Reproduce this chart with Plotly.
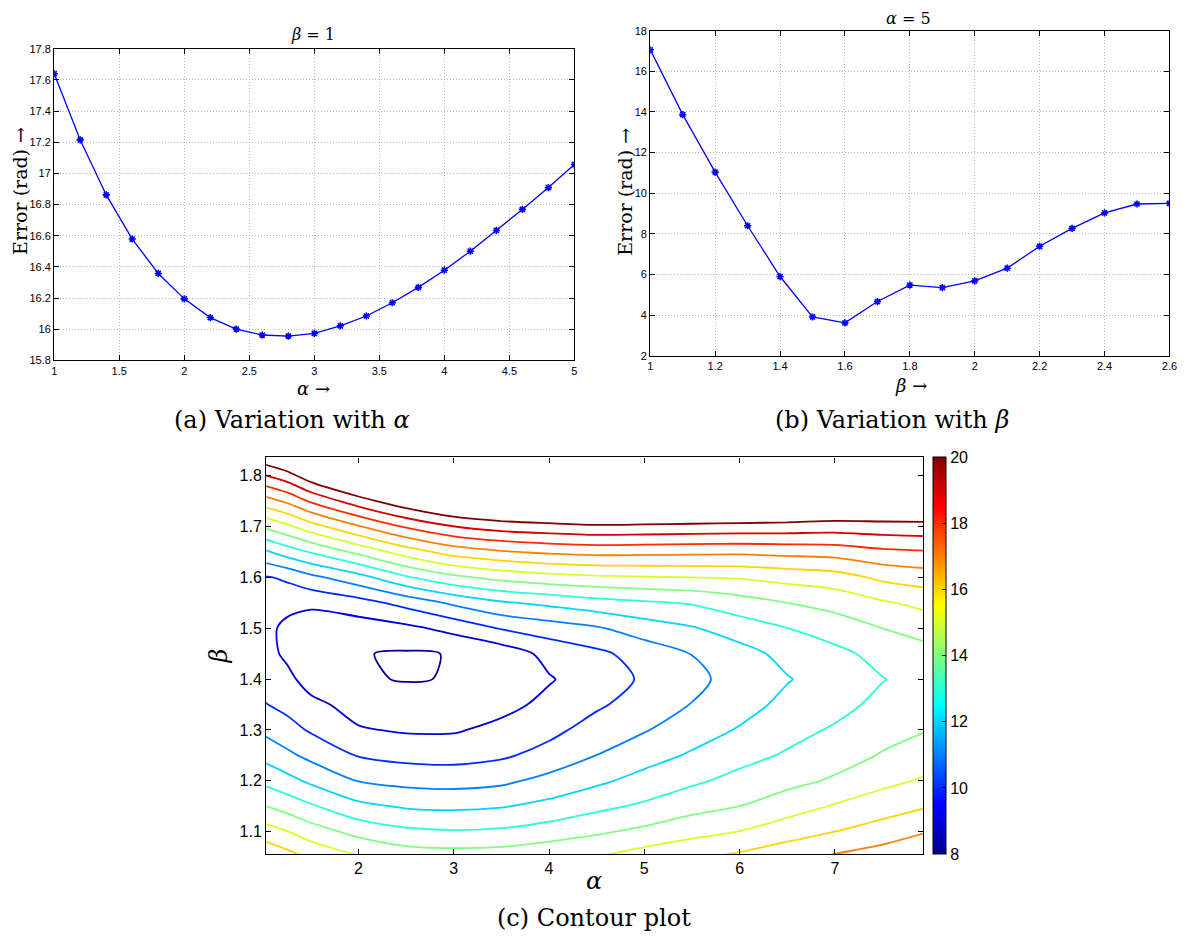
import plotly.graph_objects as go

# ---------------- data: (a) variation with alpha (beta = 1) ----------------
alpha_a = [1.0, 1.2, 1.4, 1.6, 1.8, 2.0, 2.2, 2.4, 2.6, 2.8, 3.0,
           3.2, 3.4, 3.6, 3.8, 4.0, 4.2, 4.4, 4.6, 4.8, 5.0]
error_a = [17.64, 17.215, 16.862, 16.579, 16.358, 16.195, 16.075, 16.001, 15.963, 15.956, 15.973,
           16.022, 16.085, 16.170, 16.269, 16.379, 16.501, 16.634, 16.769, 16.909, 17.057]

# ---------------- data: (b) variation with beta (alpha = 5) ----------------
beta_b = [1.0, 1.1, 1.2, 1.3, 1.4, 1.5, 1.6, 1.7, 1.8, 1.9, 2.0, 2.1, 2.2, 2.3, 2.4, 2.5, 2.6]
error_b = [17.06, 13.87, 11.04, 8.40, 5.90, 3.91, 3.62, 4.67, 5.48, 5.35, 5.69,
           6.31, 7.39, 8.27, 9.03, 9.47, 9.50]

# ---------------- data: (c) error surface over (alpha, beta) ----------------
alpha_grid = [1.0, 1.25, 1.5, 2.0, 2.5, 3.0, 3.5, 4.0, 4.5, 5.0, 5.5, 6.0, 6.5, 7.0, 7.5, 8.0]
beta_grid = [1.05, 1.10, 1.15, 1.20, 1.25, 1.30, 1.35, 1.40, 1.45,
             1.50, 1.55, 1.60, 1.65, 1.70, 1.75, 1.80, 1.85]
# one list per alpha column, values for beta_grid from 1.05 to 1.85
err_a100 = [17.0, 15.47, 14.06, 12.78, 11.73, 10.81, 10.07, 9.6, 9.4, 9.4, 9.5, 9.9, 11.77, 14.1, 16.52, 18.9, 21.3]
err_a125 = [16.4, 15.03, 13.6, 12.32, 11.22, 10.35, 9.73, 9.27, 8.80, 8.71, 9.37, 10.15, 12.47, 14.78, 17.17, 19.57, 22.0]
err_a150 = [15.86, 14.47, 13.13, 11.81, 10.74, 9.89, 9.27, 8.55, 8.3, 8.45, 9.2, 10.74, 13.07, 15.57, 18.12, 20.63, 23.2]
err_a200 = [15.1, 13.68, 12.24, 10.96, 9.94, 9.09, 8.6, 8.1, 8.05, 8.5, 9.6, 11.63, 14.24, 16.91, 19.57, 21.9, 24.2]
err_a250 = [14.6, 13.22, 11.88, 10.70, 9.69, 8.89, 8.42, 7.95, 7.9, 8.76, 10.33, 12.87, 15.47, 18.13, 20.7, 23.2, 25.7]
err_a300 = [14.5, 13.08, 11.8, 10.62, 9.64, 8.9, 8.45, 8.04, 8.04, 9.3, 11.19, 13.77, 16.41, 18.98, 21.6, 24.2, 26.8]
err_a350 = [14.56, 13.17, 11.93, 10.79, 9.85, 9.27, 8.7, 8.45, 8.4, 10.07, 11.87, 14.29, 16.88, 19.45, 22.0, 24.6, 27.2]
err_a400 = [14.85, 13.46, 12.28, 11.3, 10.35, 9.73, 9.25, 8.92, 9.3, 10.5, 12.23, 14.62, 17.17, 19.66, 22.2, 24.7, 27.2]
err_a450 = [15.02, 13.85, 12.75, 11.81, 11.01, 10.41, 9.85, 9.52, 9.78, 10.88, 12.61, 14.82, 17.31, 19.82, 22.4, 25.0, 27.5]
err_a500 = [15.5, 14.23, 13.16, 12.34, 11.6, 10.93, 10.44, 10.13, 10.41, 11.5, 12.86, 14.92, 17.27, 19.78, 22.3, 24.8, 27.3]
err_a550 = [15.88, 14.67, 13.65, 12.83, 12.12, 11.55, 11.03, 10.76, 11.02, 11.91, 13.08, 15.0, 17.23, 19.72, 22.2, 24.7, 27.2]
err_a600 = [16.24, 15.02, 14.0, 13.3, 12.67, 12.08, 11.63, 11.36, 11.62, 12.49, 13.56, 15.08, 17.2, 19.66, 22.1, 24.6, 27.1]
err_a650 = [16.66, 15.57, 14.53, 13.71, 13.11, 12.68, 12.25, 11.94, 12.3, 12.99, 14.0, 15.34, 17.3, 19.6, 22.0, 24.4, 26.8]
err_a700 = [17.14, 16.0, 15.09, 14.13, 13.59, 13.11, 12.69, 12.46, 12.72, 13.5, 14.32, 15.57, 17.41, 19.5, 21.7, 23.9, 26.1]
err_a750 = [17.52, 16.46, 15.52, 14.75, 14.07, 13.67, 13.25, 12.96, 13.35, 14.0, 14.87, 16.21, 17.77, 19.6, 21.6, 23.6, 25.6]
err_a800 = [18.0, 17.0, 15.97, 15.16, 14.56, 14.0, 13.7, 13.45, 13.72, 14.4, 15.33, 16.51, 17.91, 19.67, 21.5, 23.3, 25.2]

columns = [err_a100, err_a125, err_a150, err_a200, err_a250, err_a300, err_a350, err_a400,
           err_a450, err_a500, err_a550, err_a600, err_a650, err_a700, err_a750, err_a800]
z_rows = [list(r) for r in zip(*columns)]

ticks_a_x = [1, 1.5, 2, 2.5, 3, 3.5, 4, 4.5, 5]
ticks_a_y = [15.8, 16.0, 16.2, 16.4, 16.6, 16.8, 17.0, 17.2, 17.4, 17.6, 17.8]
ticks_b_x = [1, 1.2, 1.4, 1.6, 1.8, 2.0, 2.2, 2.4, 2.6]
ticks_b_y = [2, 4, 6, 8, 10, 12, 14, 16, 18]
ticks_c_x = [2, 3, 4, 5, 6, 7]
ticks_c_y = [1.1, 1.2, 1.3, 1.4, 1.5, 1.6, 1.7, 1.8]
ticks_cb = [8, 10, 12, 14, 16, 18, 20]

W, H = 1192, 940
def px(x): return x / W
def py(y): return 1 - y / H

jet = [[0.0, 'rgb(0,0,143)'], [0.125, 'rgb(0,0,255)'], [0.375, 'rgb(0,255,255)'],
       [0.625, 'rgb(255,255,0)'], [0.875, 'rgb(255,0,0)'], [1.0, 'rgb(128,0,0)']]

def lbl(v):
    return f"{v:g}"

SANS = "Liberation Sans, Arial, sans-serif"
SERIF = "DejaVu Serif, serif"

fig = go.Figure()

marker_style = dict(symbol='asterisk', size=6, color='#0000ff', line=dict(color='#0000ff', width=1.6))

fig.add_trace(go.Scatter(
    x=alpha_a, y=error_a, mode='lines+markers', xaxis='x', yaxis='y',
    line=dict(color='#0000ff', width=1.3), marker=marker_style,
    showlegend=False, hoverinfo='skip'))

fig.add_trace(go.Scatter(
    x=beta_b, y=error_b, mode='lines+markers', xaxis='x2', yaxis='y2',
    line=dict(color='#0000ff', width=1.3), marker=marker_style,
    showlegend=False, hoverinfo='skip'))

fig.add_trace(go.Contour(
    x=alpha_grid, y=beta_grid, z=z_rows, xaxis='x3', yaxis='y3',
    contours=dict(start=8, end=20, size=1, coloring='lines'),
    colorscale=jet, zmin=8, zmax=20, showscale=False,
    line=dict(width=1.8, smoothing=0.8), hoverinfo='skip'))

# colour bar (continuous jet) through an off-range marker
fig.add_trace(go.Scatter(
    x=[0], y=[0], xaxis='x3', yaxis='y3', mode='markers',
    marker=dict(color=[8], colorscale=jet, cmin=8, cmax=20, showscale=True, size=1,
                colorbar=dict(x=px(938.3), xanchor='left', y=py(658), yanchor='middle',
                              len=402.6 / H, lenmode='fraction', thickness=13, thicknessmode='pixels',
                              xpad=0, ypad=0, outlinewidth=1, outlinecolor='black',
                              tickmode='array', tickvals=ticks_cb, ticktext=[lbl(v) for v in ticks_cb],
                              ticks='inside', ticklen=4, tickcolor='black',
                              tickfont=dict(family=SANS, size=16, color='black'))),
    showlegend=False, hoverinfo='skip'))

def axis(domain, rng, tickvals, anchor, size, grid):
    return dict(domain=domain, range=rng, anchor=anchor, tickmode='array', tickvals=tickvals,
                ticktext=[lbl(v) for v in tickvals], ticks='inside', ticklen=5, tickcolor='black',
                mirror='ticks', showline=True, linecolor='black', linewidth=1.3,
                showgrid=grid, gridcolor='#b8b8b8', griddash='1px,2px', gridwidth=1, zeroline=False,
                tickfont=dict(family=SANS, size=size, color='black'))

fig.update_layout(
    width=W, height=H, margin=dict(l=0, r=0, t=0, b=0),
    paper_bgcolor='white', plot_bgcolor='white',
    xaxis=axis([px(51.7), px(576.7)], [1, 5], ticks_a_x, 'y', 11, True),
    yaxis=axis([py(359), py(43.3)], [15.8, 17.8], ticks_a_y, 'x', 11, True),
    xaxis2=axis([px(653.3), px(1177.3)], [1, 2.6], ticks_b_x, 'y2', 11, True),
    yaxis2=axis([py(354.3), py(25)], [2, 18], ticks_b_y, 'x2', 11, True),
    xaxis3=axis([px(265.6), px(929)], [1.03, 7.93], ticks_c_x, 'y3', 16, False),
    yaxis3=axis([py(859), py(457.3)], [1.056, 1.836], ticks_c_y, 'x3', 16, False),
)

def ann(text, x, y, size, angle=0):
    return dict(text=text, x=px(x), y=py(y), xref='paper', yref='paper', showarrow=False,
                xanchor='center', yanchor='middle', textangle=angle,
                font=dict(family=SERIF, size=size, color='black'))

fig.update_layout(annotations=[
    ann("<i>β</i> = 1", 313, 29, 16),
    ann("<i>α</i> = 5", 914, 13, 16),
    ann("<i>α</i> →", 313, 387, 18),
    ann("<i>β</i> →", 916, 384, 18),
    ann("Error (rad) →", 16.5, 187, 19, -90),
    ann("Error (rad) →", 627, 188, 19, -90),
    ann("(a) Variation with <i>α</i>", 292, 419, 24),
    ann("(b) Variation with <i>β</i>", 897, 419, 24),
    ann("(c) Contour plot", 597, 924, 24),
    ann("<i>α</i>", 597, 886, 24),
    ann("<i>β</i>", 218, 658, 24, -90),
])

fig.write_html("out.html")
